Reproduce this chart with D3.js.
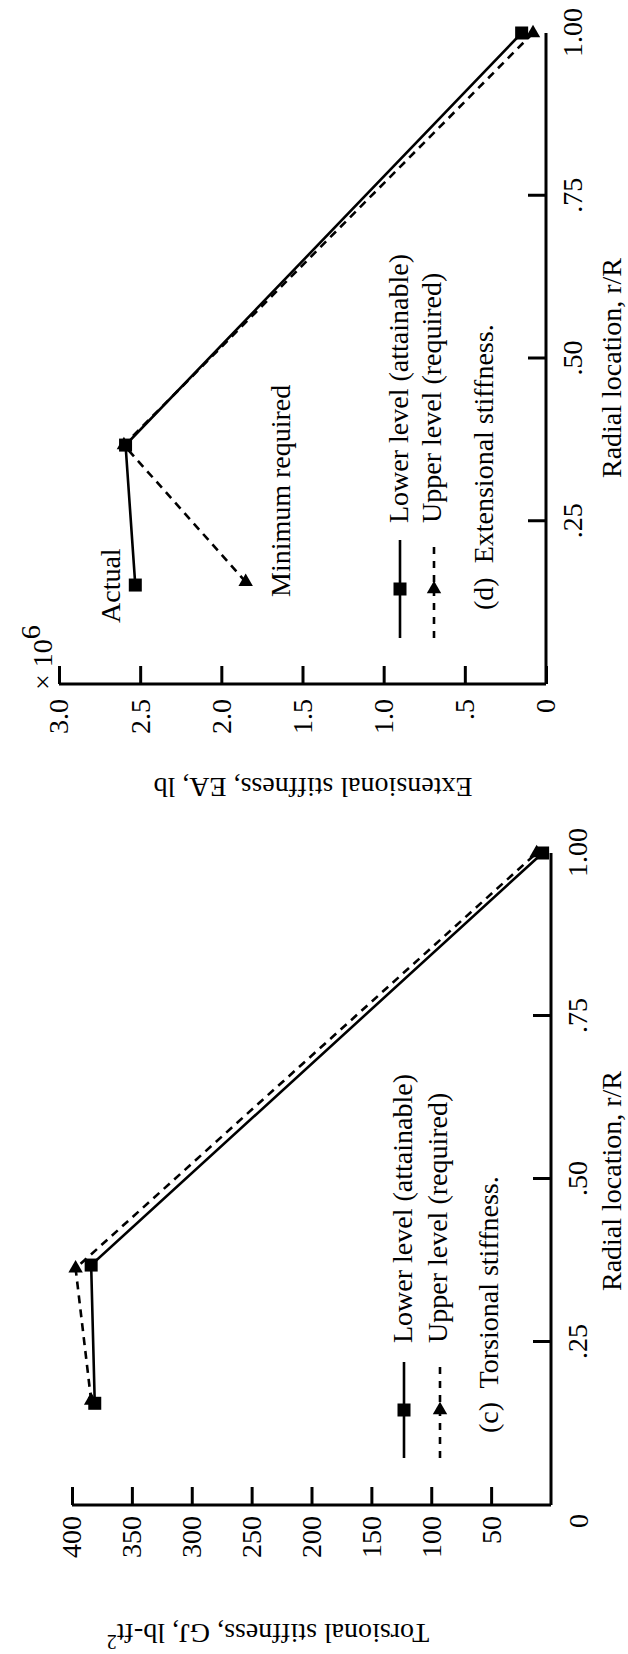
<!DOCTYPE html>
<html>
<head>
<meta charset="utf-8">
<script src="https://cdn.jsdelivr.net/npm/d3@7"></script>
<style>
  html, body { margin: 0; padding: 0; background: #fff; }
  svg { display: block; }
  text { font-family: "Liberation Serif", "Times New Roman", "DejaVu Serif", serif; fill: #000; }
</style>
</head>
<body>
<svg id="fig" width="628" height="1654"></svg>
<script>
// ---- data ----
const radialTicks = [0.25, 0.5, 0.75, 1.0];
const radialTickLabels = [".25", ".50", ".75", "1.00"];

const torsionTicks = [50, 100, 150, 200, 250, 300, 350, 400];
const torsionTickLabels = ["50", "100", "150", "200", "250", "300", "350", "400"];
const torsionOriginLabel = "0";

const extensionTicks = [0, 0.5, 1.0, 1.5, 2.0, 2.5, 3.0];
const extensionTickLabels = ["0", ".5", "1.0", "1.5", "2.0", "2.5", "3.0"];

// (c) torsional stiffness GJ, lb-ft^2
const torsionLowerR = [0.156, 0.368, 1.0];
const torsionLowerGJ = [381, 384, 7];
const torsionUpperR = [0.16, 0.363, 1.0];
const torsionUpperGJ = [384, 397, 12];

// (d) extensional stiffness EA, lb (x 10^6)
const extensionLowerR = [0.152, 0.367, 1.0];
const extensionLowerEA = [2.53, 2.59, 0.15];
const extensionUpperR = [0.157, 0.367, 1.0];
const extensionUpperEA = [1.85, 2.60, 0.08];

const legendLabels = ["Lower level (attainable)", "Upper level (required)"];

// ---- drawing ----
const FONT = 28;
const svg = d3.select("#fig");
svg.append("rect").attr("width", 628).attr("height", 1654).attr("fill", "#fff");

// the figure is laid out landscape and turned a quarter turn counter-clockwise
const page = svg.append("g").attr("transform", "translate(0,1654) rotate(-90)");

const zip = (xs, ys) => xs.map((x, i) => ({ r: x, v: ys[i] }));

function styleAxis(g) {
  g.attr("font-size", FONT).attr("font-family", null);
  g.select(".domain").attr("stroke", "#000").attr("stroke-width", 3);
  g.selectAll(".tick line").attr("stroke", "#000").attr("stroke-width", 3);
  g.selectAll(".tick text").attr("fill", "#000");
}

function panel(opt) {
  const g = page.append("g");
  const x = d3.scaleLinear().domain([0, 1]).range(opt.xRange);
  const y = d3.scaleLinear().domain(opt.yDomain).range(opt.yRange);

  // x axis (radial location)
  const xa = g.append("g")
    .attr("transform", `translate(0,${y(0)})`)
    .call(d3.axisBottom(x)
      .tickValues(radialTicks)
      .tickFormat((d, i) => radialTickLabels[i])
      .tickSizeInner(-18).tickSizeOuter(0).tickPadding(16));
  styleAxis(xa);
  xa.selectAll(".tick").filter(d => d === 1).select("line").attr("y2", 0);
  xa.select(".domain").attr("d", `M${x(0)},0H${x(1)}`);

  // y axis
  const ya = g.append("g")
    .attr("transform", `translate(${x(0)},0)`)
    .call(d3.axisLeft(y)
      .tickValues(opt.yTicks)
      .tickFormat((d, i) => opt.yTickLabels[i])
      .tickSizeInner(-18).tickSizeOuter(0).tickPadding(opt.yPad));
  styleAxis(ya);
  ya.select(".domain").attr("d", `M0,${y(0)}V${y(opt.yDomain[1])}`);

  // axis titles
  g.append("text")
    .attr("x", opt.xTitleX).attr("y", opt.xTitleY)
    .attr("text-anchor", "middle").attr("font-size", FONT)
    .text("Radial location, r/R");

  const yt = g.append("text")
    .attr("transform", `translate(${opt.yTitleX},${opt.yTitleY}) rotate(-90)`)
    .attr("text-anchor", "middle").attr("font-size", FONT)
    .text(opt.yTitle);
  if (opt.yTitleSup) {
    yt.append("tspan").attr("dy", -11).attr("font-size", 20).text(opt.yTitleSup);
  }

  // series
  const line = d3.line().x(d => x(d.r)).y(d => y(d.v));
  const lower = zip(opt.lowerR, opt.lowerV);
  const upper = zip(opt.upperR, opt.upperV);

  g.append("path").datum(upper).attr("d", line)
    .attr("fill", "none").attr("stroke", "#000").attr("stroke-width", 2.6)
    .attr("stroke-dasharray", "8,6");
  g.append("path").datum(lower).attr("d", line)
    .attr("fill", "none").attr("stroke", "#000").attr("stroke-width", 2.6);

  const tri = d3.symbol(d3.symbolTriangle, 90);
  g.selectAll(".tri").data(upper).join("path").attr("class", "tri")
    .attr("d", tri)
    .attr("transform", d => `translate(${x(d.r)},${y(d.v)}) rotate(90)`)
    .attr("fill", "#000");
  g.selectAll(".sq").data(lower).join("rect").attr("class", "sq")
    .attr("x", d => x(d.r) - 6.5).attr("y", d => y(d.v) - 6.5)
    .attr("width", 13).attr("height", 13).attr("fill", "#000");

  // legend
  const L = opt.legend;
  g.append("line").attr("x1", L.x0).attr("x2", L.x1).attr("y1", L.y1).attr("y2", L.y1)
    .attr("stroke", "#000").attr("stroke-width", 2.6);
  g.append("rect").attr("x", (L.x0 + L.x1) / 2 - 6.5).attr("y", L.y1 - 6.5)
    .attr("width", 13).attr("height", 13).attr("fill", "#000");
  g.append("line").attr("x1", L.x0).attr("x2", L.x1).attr("y1", L.y2).attr("y2", L.y2)
    .attr("stroke", "#000").attr("stroke-width", 2.6).attr("stroke-dasharray", "7,7");
  g.append("path").attr("d", tri)
    .attr("transform", `translate(${(L.x0 + L.x1) / 2},${L.y2}) rotate(90)`)
    .attr("fill", "#000");
  g.append("text").attr("x", L.tx).attr("y", L.y1 + 8).attr("font-size", FONT).text(legendLabels[0]);
  g.append("text").attr("x", L.tx).attr("y", L.y2 + 7).attr("font-size", FONT).text(legendLabels[1]);
  g.append("text").attr("x", L.cx).attr("y", L.cy).attr("font-size", FONT)
    .attr("xml:space", "preserve").text(opt.caption);

  return { g, x, y };
}

// (c) torsional stiffness
const c = panel({
  xRange: [149, 801],
  yDomain: [0, 400], yRange: [551, 72],
  yTicks: torsionTicks, yTickLabels: torsionTickLabels, yPad: 11,
  xTitleX: 473, xTitleY: 621,
  yTitle: "Torsional stiffness, GJ, lb-ft", yTitleSup: "2",
  yTitleX: 30, yTitleY: 268,
  lowerR: torsionLowerR, lowerV: torsionLowerGJ,
  upperR: torsionUpperR, upperV: torsionUpperGJ,
  legend: { x0: 196, x1: 292, y1: 404, y2: 440, tx: 311, cx: 221, cy: 498 },
  caption: "(c)  Torsional stiffness."
});
c.g.append("text")
  .attr("x", c.x(0) - 16).attr("y", c.y(0) + 37)
  .attr("text-anchor", "middle").attr("font-size", FONT)
  .text(torsionOriginLabel);

// (d) extensional stiffness
const d = panel({
  xRange: [970, 1621],
  yDomain: [0, 3], yRange: [546, 59],
  yTicks: extensionTicks, yTickLabels: extensionTickLabels, yPad: 15,
  xTitleX: 1286, xTitleY: 621,
  yTitle: "Extensional stiffness, EA, lb", yTitleSup: null,
  yTitleX: 876, yTitleY: 313,
  lowerR: extensionLowerR, lowerV: extensionLowerEA,
  upperR: extensionUpperR, upperV: extensionUpperEA,
  legend: { x0: 1016, x1: 1114, y1: 400, y2: 434, tx: 1131, cx: 1044, cy: 493 },
  caption: "(d)  Extensional stiffness."
});

// multiplier above the EA axis
const mult = d.g.append("text")
  .attr("x", d.x(0) - 6).attr("y", 52).attr("font-size", FONT);
mult.append("tspan").text("\u00d7 10");
mult.append("tspan").attr("dy", -12).text("6");

// annotations on the EA branches
d.g.append("text").attr("x", 1031).attr("y", 120).attr("font-size", FONT).text("Actual");
d.g.append("text").attr("x", 1057).attr("y", 290).attr("font-size", FONT).text("Minimum required");
</script>
</body>
</html>
